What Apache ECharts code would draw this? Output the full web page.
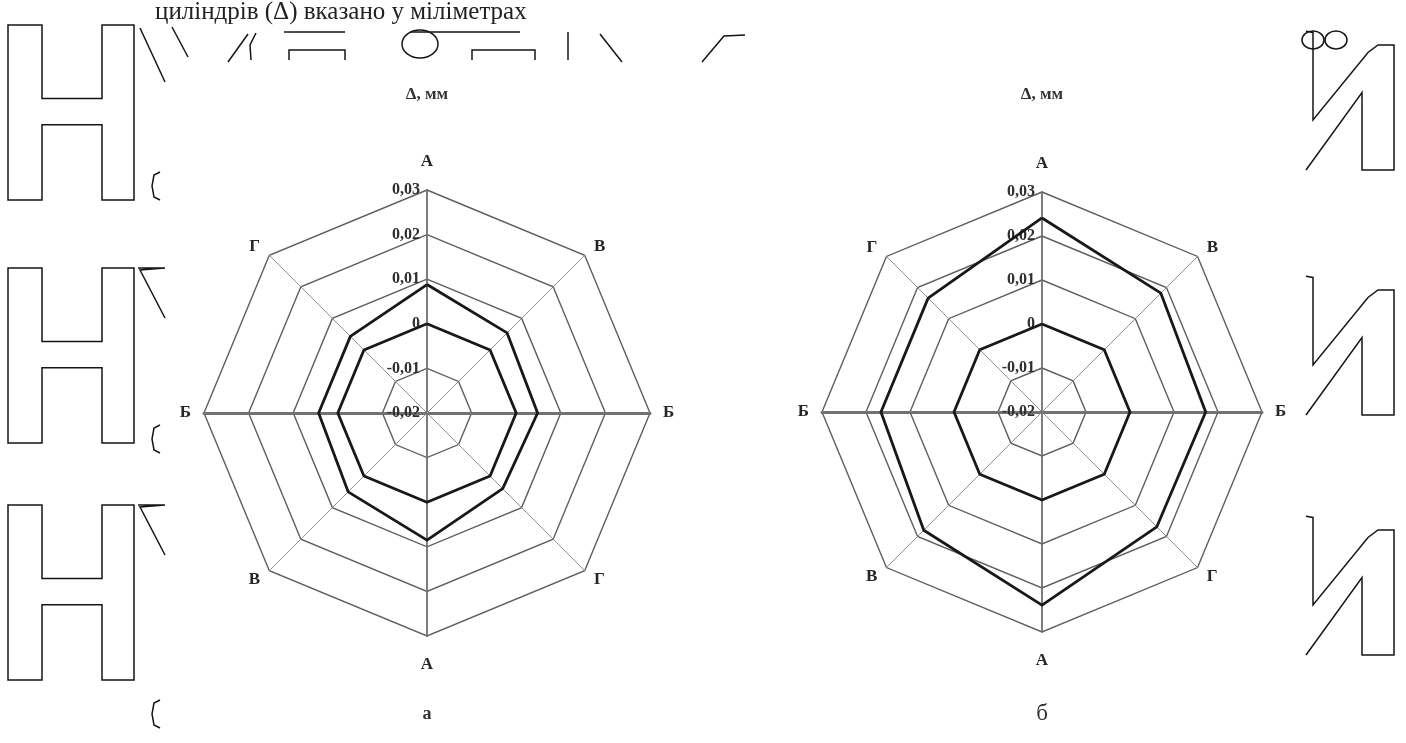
<!DOCTYPE html>
<html>
<head>
<meta charset="utf-8">
<script src="https://cdn.jsdelivr.net/npm/echarts@6/dist/echarts.min.js"></script>
<style>
html, body { margin: 0; padding: 0; background: #ffffff; }
#chart { width: 1406px; height: 743px; }
</style>
</head>
<body>
<div id="chart"></div>
<script>
// Axis names, clockwise from the top spoke
const axisNames = ['А', 'В', 'Б', 'Г', 'А', 'В', 'Б', 'Г'];
// Value scale of the radial axis (mm)
const tickValues = [-0.02, -0.01, 0, 0.01, 0.02, 0.03];
const tickLabels = ['-0,02', '-0,01', '0', '0,01', '0,02', '0,03'];
// Panel а: reference contour and measured deviation, clockwise from the top
const baseA = [0, 0, 0, 0, 0, 0, 0, 0];
const measA = [0.0088, 0.0054, 0.0048, 0.0040, 0.0085, 0.0050, 0.0043, 0.0043];
// Panel б
const baseB = [0, 0, 0, 0, 0, 0, 0, 0];
const measB = [0.0241, 0.0182, 0.0172, 0.0169, 0.0239, 0.0180, 0.0166, 0.0166];
const panelTitles = ['Δ, мм', 'Δ, мм'];
const panelLetters = ['а', 'б'];
const headerText = 'циліндрів (Δ) вказано у міліметрах';

const SERIF = '"Liberation Serif", "DejaVu Serif", serif';
const chart = echarts.init(document.getElementById('chart'), null, { renderer: 'canvas' });

// radar lays indicators out counter-clockwise; reorder the clockwise lists
const ccw = [0, 7, 6, 5, 4, 3, 2, 1];
const reorder = arr => ccw.map(k => arr[k]);

function tickText(v) {
  let best = 0;
  tickValues.forEach((t, i) => { if (Math.abs(t - v) < Math.abs(tickValues[best] - v)) best = i; });
  return tickLabels[best];
}

function makeRadar(cx, cy, r) {
  return {
    center: [cx, cy],
    radius: r,
    startAngle: 90,
    splitNumber: tickValues.length - 1,
    shape: 'polygon',
    nameGap: 13,
    axisName: { color: '#262626', fontFamily: SERIF, fontSize: 17, fontWeight: 'bold' },
    axisLine: { lineStyle: { color: '#909090', width: 1 } },
    axisTick: { show: false },
    axisLabel: { show: false },
    splitLine: { lineStyle: { color: '#5e5e5e', width: 1.4 } },
    splitArea: { show: false },
    indicator: ccw.map(k => {
      const ind = { name: axisNames[k], min: tickValues[0], max: tickValues[tickValues.length - 1] };
      if (k % 4 === 0) {
        ind.nameGap = 20;
        ind.axisLine = { lineStyle: { color: '#6f6f6f', width: 1.8 } };
      }
      if (k % 4 === 2) ind.axisLine = { lineStyle: { color: '#727272', width: 3 } };
      if (k === 0) {
        ind.axisLabel = {
          show: true, showMinLabel: true, showMaxLabel: true, margin: 7,
          color: '#2e2e2e', fontFamily: SERIF, fontSize: 16, fontWeight: 'bold',
          formatter: v => tickText(v)
        };
      }
      return ind;
    })
  };
}

function radarSeries(idx, base, meas) {
  return {
    type: 'radar',
    radarIndex: idx,
    symbol: 'none',
    silent: true,
    lineStyle: { color: '#181818', width: 2.8 },
    itemStyle: { color: '#181818' },
    data: [{ value: reorder(base) }, { value: reorder(meas) }]
  };
}

// --- outline letter fragments printed around the figure ---
const ink = { stroke: '#151515', lineWidth: 1.5, fill: null };
function line(points) { return { type: 'polyline', silent: true, shape: { points }, style: ink }; }
function poly(points) { return { type: 'polygon', silent: true, shape: { points }, style: ink }; }
function hShape(top, h) {
  const a = top + h * 0.42, b = top + h * 0.57, bot = top + h;
  return poly([[8, top], [42, top], [42, a], [102, a], [102, top], [134, top], [134, bot], [102, bot],
               [102, b], [42, b], [42, bot], [8, bot]]);
}
function bracket(x, y) { return line([[x + 8, y], [x + 2, y + 3], [x, y + 14], [x + 2, y + 25], [x + 8, y + 28]]); }
function slash(x, y) { return line([[x, y], [x + 27, y], [x + 2, y + 2], [x + 27, y + 50]]); }
function iShape(top, h) {
  return line([[1306, top - 0.11 * h], [1313, top - 0.1 * h], [1313, top + 0.6 * h], [1368, top + 0.06 * h],
               [1378, top], [1394, top], [1394, top + h], [1362, top + h], [1362, top + 0.38 * h],
               [1306, top + h]]);
}

const deco = [];
[25, 268, 505].forEach(t => deco.push(hShape(t, 175)));
[172, 425, 700].forEach(y => deco.push(bracket(152, y)));
deco.push(slash(138, 268), slash(138, 505));
deco.push(line([[140, 28], [165, 82]]), line([[172, 27], [188, 57]]));
[45, 290, 530].forEach(t => deco.push(iShape(t, 125)));
// top row fragments
deco.push(
  line([[228, 62], [248, 34]]),
  line([[256, 33], [250, 45], [251, 60]]),
  line([[289, 60], [289, 50], [345, 50], [345, 60]]),
  line([[284, 32], [345, 32]]),
  { type: 'ellipse', silent: true, shape: { cx: 420, cy: 44, rx: 18, ry: 14 }, style: ink },
  line([[410, 32], [520, 32]]),
  line([[472, 60], [472, 50], [535, 50], [535, 60]]),
  line([[568, 32], [568, 60]]),
  line([[600, 34], [622, 62]]),
  line([[702, 62], [724, 36], [745, 35]]),
  { type: 'ellipse', silent: true, shape: { cx: 1313, cy: 40, rx: 11, ry: 9 }, style: ink },
  { type: 'ellipse', silent: true, shape: { cx: 1336, cy: 40, rx: 11, ry: 9 }, style: ink }
);

const centers = [[427, 413], [1042, 412]];
const texts = [];
texts.push({ type: 'text', silent: true, left: 155, top: 0,
  style: { text: headerText, font: '25px ' + SERIF, fill: '#222' } });
centers.forEach((c, i) => {
  texts.push({ type: 'text', silent: true, x: c[0], y: 95,
    style: { text: panelTitles[i], font: 'bold 17px ' + SERIF, fill: '#333', align: 'center', verticalAlign: 'middle' } });
  texts.push({ type: 'text', silent: true, x: c[0], y: 714,
    style: { text: panelLetters[i], font: (i === 0 ? 'bold 18px ' : '23px ') + SERIF, fill: '#333', align: 'center', verticalAlign: 'middle' } });
});

chart.setOption({
  backgroundColor: '#ffffff',
  animation: false,
  radar: [makeRadar(427, 413, 223), makeRadar(1042, 412, 220)],
  series: [radarSeries(0, baseA, measA), radarSeries(1, baseB, measB)],
  graphic: deco.concat(texts)
});
</script>
</body>
</html>
